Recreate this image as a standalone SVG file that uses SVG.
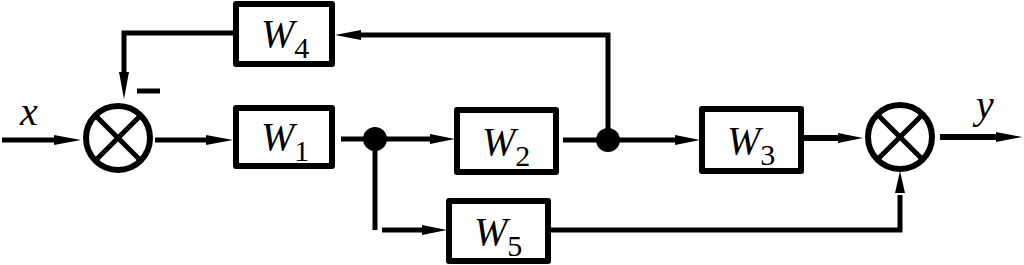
<svg xmlns="http://www.w3.org/2000/svg" width="1024" height="265" viewBox="0 0 1024 265">
<defs>
<style>
.box{fill:#fff;stroke:#000;stroke-width:6;stroke-linejoin:round}
.ln{fill:none;stroke:#000;stroke-width:5}
.th{fill:none;stroke:#000;stroke-width:6}
.sum{fill:#fff;stroke:#000;stroke-width:6}
.x{stroke:#000;stroke-width:5}
.ah{fill:#000}
.lbl{font-family:"Liberation Serif",serif;font-size:40px;font-style:italic;fill:#000}
.sub{font-style:normal;font-size:30px}
</style>
</defs>
<g id="connectors">
<line class="ln" x1="2" y1="140" x2="58" y2="140"/>
<polygon class="ah" points="54,135 81,140 54,145"/>
<line class="ln" x1="155" y1="140" x2="210" y2="140"/>
<polygon class="ah" points="206,135 233,140 206,145"/>
<polyline class="ln" points="233,33 124,33 124,75"/>
<polygon class="ah" points="119,72 124,99 129,72"/>
<line class="ln" x1="341" y1="139" x2="434" y2="139"/>
<polygon class="ah" points="430,134 455,139 430,144"/>
<line class="ln" x1="375" y1="139" x2="375" y2="230"/>
<line class="ln" x1="382" y1="230" x2="426" y2="230"/>
<polygon class="ah" points="422,225 447,230 422,235"/>
<line class="ln" x1="563" y1="140" x2="679" y2="140"/>
<polygon class="ah" points="675,135 700,140 675,145"/>
<polyline class="ln" points="608,140 608,35 358,35"/>
<polygon class="ah" points="361,30 335,35 361,40"/>
<line class="th" x1="803" y1="138" x2="842" y2="138"/>
<polygon class="ah" points="838,133 863,138 838,143"/>
<polyline class="ln" points="550,230 900,230 900,195"/>
<polygon class="ah" points="895,193 900,171 905,193"/>
<line class="th" x1="940" y1="137" x2="1000" y2="137"/>
<polygon class="ah" points="996,132 1022,137 996,142"/>
<line class="ln" x1="137" y1="91" x2="160" y2="91"/>
<circle cx="375" cy="139" r="12" fill="#000"/>
<circle cx="608" cy="140" r="12" fill="#000"/>
</g>
<g id="sum1">
<circle class="sum" cx="118" cy="138" r="32"/>
<line class="x" x1="95.4" y1="115.4" x2="140.6" y2="160.6"/>
<line class="x" x1="140.6" y1="115.4" x2="95.4" y2="160.6"/>
</g>
<g id="sum2">
<circle class="sum" cx="900" cy="137" r="32"/>
<line class="x" x1="877.4" y1="114.4" x2="922.6" y2="159.6"/>
<line class="x" x1="922.6" y1="114.4" x2="877.4" y2="159.6"/>
</g>
<g id="W4">
<rect class="box" x="236" y="4" width="96" height="60"/>
<text class="lbl" x="261" y="47">W<tspan class="sub" dy="11">4</tspan></text>
</g>
<g id="W1">
<rect class="box" x="236" y="108" width="96" height="58"/>
<text class="lbl" x="261" y="150">W<tspan class="sub" dy="11">1</tspan></text>
</g>
<g id="W2">
<rect class="box" x="457" y="110" width="99" height="62"/>
<text class="lbl" x="482" y="155">W<tspan class="sub" dy="11">2</tspan></text>
</g>
<g id="W3">
<rect class="box" x="702" y="109" width="99" height="62"/>
<text class="lbl" x="727" y="154">W<tspan class="sub" dy="11">3</tspan></text>
</g>
<g id="W5">
<rect class="box" x="449" y="201" width="99" height="60"/>
<text class="lbl" x="474" y="245">W<tspan class="sub" dy="11">5</tspan></text>
</g>
<g id="labels">
<text class="lbl" x="20" y="125">x</text>
<text class="lbl" x="976" y="118">y</text>
</g>
</svg>
